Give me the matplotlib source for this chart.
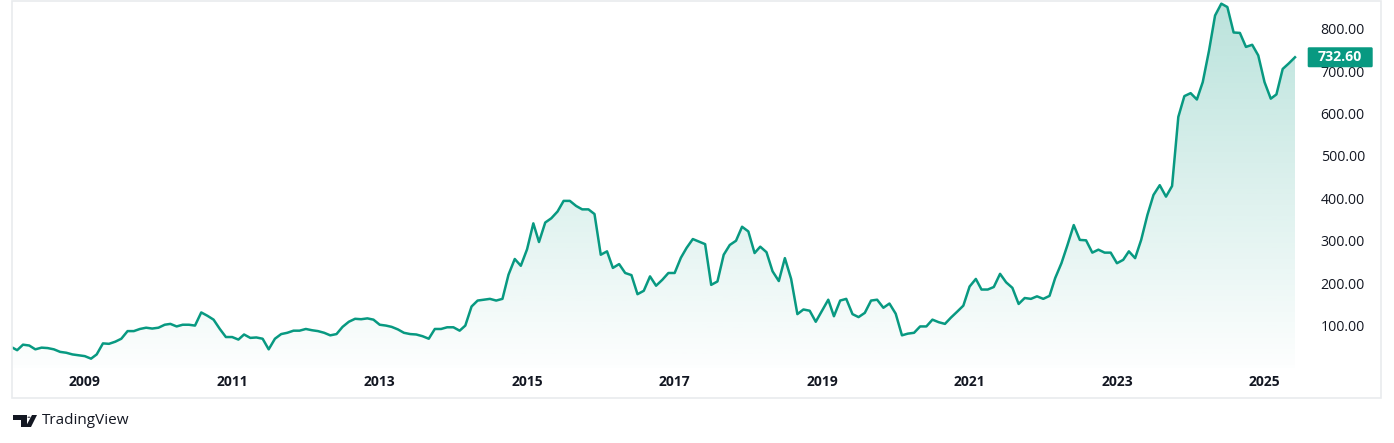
import numpy as np
import pandas as pd
import matplotlib
matplotlib.use("Agg")
import matplotlib.pyplot as plt
import matplotlib.dates as mdates
import matplotlib.transforms as mtransforms
from matplotlib.colors import to_rgb
from matplotlib.patches import Rectangle, Polygon, Circle, FancyBboxPatch

# monthly closes, Jan 2008 .. Jun 2025
start_month = "2008-01-01"
closes = [
    50, 42, 55, 53, 44, 48, 47, 44, 38, 36,
    32, 30, 28, 22, 32, 58, 57, 62, 69, 87,
    87, 92, 95, 93, 95, 102, 104, 98, 102, 102,
    100, 131, 123, 114, 92, 73, 73, 67, 79, 71,
    72, 69, 44, 69, 80, 83, 88, 88, 92, 89,
    87, 83, 77, 80, 97, 109, 116, 115, 117, 114,
    102, 100, 97, 91, 83, 80, 79, 75, 69, 92,
    92, 96, 96, 88, 100, 145, 159, 161, 163, 159,
    163, 220, 257, 241, 280, 341, 297, 343, 353, 369,
    394, 394, 382, 374, 374, 363, 267, 275, 236, 245,
    224, 219, 174, 182, 216, 194, 208, 224, 224, 260,
    283, 304, 298, 292, 196, 204, 267, 290, 300, 333,
    322, 271, 286, 273, 228, 205, 259, 210, 127, 138,
    135, 109, 135, 161, 122, 159, 163, 127, 120, 130,
    159, 161, 142, 152, 128, 77, 81, 83, 98, 98,
    114, 108, 104, 119, 133, 147, 192, 210, 185, 185,
    191, 222, 202, 189, 151, 165, 163, 169, 163, 170,
    212, 247, 290, 337, 302, 301, 272, 279, 272, 272,
    247, 255, 275, 259, 302, 361, 408, 431, 404, 429,
    592, 641, 648, 633, 674, 748, 831, 859, 851, 791,
    790, 757, 762, 737, 674, 635, 645, 705, 718, 732.6,
]
last_label = "732.60"
price_ticks = [100, 200, 300, 400, 500, 600, 700, 800]
year_ticks = [2009, 2011, 2013, 2015, 2017, 2019, 2021, 2023, 2025]

green = "#089981"
W, H = 1394, 443

dates = pd.date_range(start_month, periods=len(closes), freq="MS")
xs = mdates.date2num(dates)

fig = plt.figure(figsize=(W / 100, H / 100), dpi=100)
fig.patch.set_facecolor("white")

def fx(px):
    return px / W

def fy(py):
    return 1 - py / H

# pane: x 12..1303, y 0..368 (pixels)
ax = fig.add_axes([fx(12), fy(368), fx(1303) - fx(12), fy(0) - fy(368)])

px_per_day = 6.145 / 30.44
right = xs[-1] + 8 / px_per_day
left = right - 1291 / px_per_day
ymax = 867.6
ax.set_xlim(left, right)
ax.set_ylim(0, ymax)

# gradient area under the line
poly = ax.fill_between(xs, closes, 0, facecolor="none", edgecolor="none")
grad = np.zeros((256, 1, 4))
grad[..., :3] = to_rgb(green)
grad[:, 0, 3] = np.linspace(0.28, 0.01, 256)
im = ax.imshow(grad, extent=[left, right, 0, ymax], aspect="auto",
               origin="upper", zorder=1)
im.set_clip_path(poly.get_paths()[0], transform=ax.transData)

ax.plot(xs, closes, color=green, lw=1.8, zorder=3, solid_joinstyle="round")

for s in ax.spines.values():
    s.set_visible(False)

ax.yaxis.tick_right()
ax.set_yticks(price_ticks)
ax.set_yticklabels([f"{v:.2f}" for v in price_ticks])
ax.tick_params(axis="y", length=0, pad=12.7, labelsize=10.2, labelcolor="#131722")
for t in ax.get_yticklabels():
    t.set_family("Open Sans")

ax.set_xticks(mdates.date2num([pd.Timestamp(f"{y}-01-01") for y in year_ticks]))
ax.set_xticklabels([str(y) for y in year_ticks])
ax.tick_params(axis="x", length=0, pad=5, labelsize=10, labelcolor="#131722")
for t in ax.get_xticklabels():
    t.set_family("Open Sans")
    t.set_fontweight("bold")

# last price label: box in figure-x / data-y
tr = mtransforms.blended_transform_factory(fig.transFigure, ax.transData)
box_h = 20 / 368 * ymax
fig.add_artist(FancyBboxPatch((fx(1307.7), closes[-1] - box_h / 2), fx(65), box_h,
                              boxstyle="round,pad=0,rounding_size=0.001",
                              transform=tr, fc=green, ec="none", zorder=10,
                              mutation_aspect=box_h / fx(65) * 65 / 20))
fig.text(fx(1340.2), closes[-1], last_label, transform=tr, ha="center", va="center",
         color="white", fontsize=10.2, fontweight="bold", family="Open Sans", zorder=11)

# outer frame
fig.add_artist(Rectangle((fx(12), fy(398)), fx(1381) - fx(12), fy(0.5) - fy(398),
                         transform=fig.transFigure, fill=False, ec="#e9ebee", lw=1.2))

# TradingView logo + text
logo = "#131722"
fig.add_artist(Polygon([(fx(12.7), fy(415)), (fx(26.7), fy(415)), (fx(26.7), fy(427)),
                        (fx(20.7), fy(427)), (fx(20.7), fy(419.5)), (fx(12.7), fy(419.5))],
                       closed=True, transform=fig.transFigure, fc=logo, ec="none"))
fig.add_artist(Circle((fx(29), fy(417.2)), 1.6 / W, transform=fig.transFigure,
                      fc=logo, ec="none"))
fig.add_artist(Polygon([(fx(32), fy(415)), (fx(37), fy(415)), (fx(31), fy(427)),
                        (fx(25.5), fy(427))],
                       closed=True, transform=fig.transFigure, fc=logo, ec="none"))
fig.text(fx(41.5), fy(421), "TradingView", fontsize=11, color=logo,
         family="Open Sans", va="center", ha="left")

fig.savefig("out.png", dpi=100, facecolor="white")
